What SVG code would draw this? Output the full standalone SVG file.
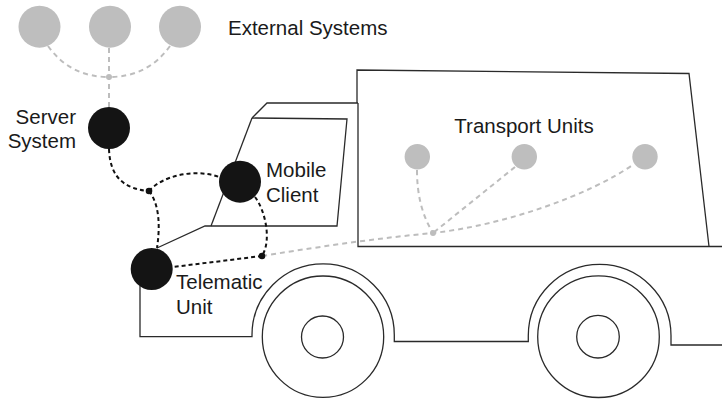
<svg xmlns="http://www.w3.org/2000/svg" width="722" height="400" viewBox="0 0 722 400">
  <style>
    .outline { fill: none; stroke: #2a2a2a; stroke-width: 1.3; stroke-linejoin: miter; }
    .link-dark { fill: none; stroke: #111; stroke-width: 2; stroke-dasharray: 4 3; }
    .link-grey { fill: none; stroke: #bdbdbd; stroke-width: 2; stroke-dasharray: 5 4; }
    .node-dark { fill: #141414; }
    .node-grey { fill: #bebebe; }
    .dot-dark { fill: #111; }
    .dot-grey { fill: #bdbdbd; }
    .label { font-family: "Liberation Sans", Arial, Helvetica, sans-serif; font-size: 20.5px; fill: #1a1a1a; }
  </style>

  <!-- truck drawing -->
  <g id="truck">
    <!-- cargo box -->
    <path class="outline" d="M357,103 L357,70 L689,73.5 L709,246.5"/>
    <path class="outline" d="M358,103 L358,246.5 L722,246.5"/>
    <!-- cab roof and window -->
    <path class="outline" d="M358,103 L267,103 L252,118"/>
    <path class="outline" d="M252,118 L347,119 L337,226 L205,226 L157,248"/>
    <path class="outline" d="M252,118 L211,226"/>
    <!-- lower body with wheel arches -->
    <path class="outline" d="M140,286 L140,336.7 L252,336.7 L252,335 A71,71 0 0 1 394.3,335 L394.3,341.5 L528.3,341.5 L528.3,335.6 A71.3,71.3 0 0 1 671,335.6 L671,345 L722,345"/>
    <!-- wheels -->
    <circle class="outline" cx="323" cy="336.7" r="60.7"/>
    <circle class="outline" cx="322.5" cy="337" r="21"/>
    <circle class="outline" cx="598.5" cy="336.7" r="60.8"/>
    <circle class="outline" cx="598" cy="336.7" r="21.3"/>
  </g>

  <!-- connectors -->
  <g id="connectors">
    <!-- external systems fan-in -->
    <path class="link-grey" d="M48,46 Q70,77 109,77"/>
    <path class="link-grey" d="M170,46 Q148,77 109,77"/>
    <path class="link-grey" d="M109,48 L109,107"/>
    <circle class="dot-grey" cx="109" cy="77" r="3"/>

    <!-- transport units fan-in -->
    <path class="link-grey" d="M262,256 C330,245 380,238 433,233 C505,225 590,195 634,164"/>
    <path class="link-grey" d="M417,170 C417,195 422,215 433,233"/>
    <path class="link-grey" d="M515,167 L433,233"/>
    <circle class="dot-grey" cx="433" cy="233" r="3"/>

    <!-- server / mobile / telematic links -->
    <path class="link-dark" d="M109,149 C110,178 125,189 149,191"/>
    <path class="link-dark" d="M149,191 C162,176 195,168 219,177"/>
    <path class="link-dark" d="M149,191 C160,205 160,228 157,248"/>
    <path class="link-dark" d="M255,197 C265,210 272,240 262,256"/>
    <path class="link-dark" d="M262,256 L173,267"/>
    <circle class="dot-dark" cx="149" cy="191" r="3.3"/>
    <circle class="dot-dark" cx="262" cy="256" r="3.3"/>
  </g>

  <!-- external systems -->
  <g id="external-systems">
    <circle class="node-grey" cx="39.5" cy="26.7" r="21"/>
    <circle class="node-grey" cx="110" cy="26.7" r="21"/>
    <circle class="node-grey" cx="180" cy="26.7" r="21"/>
    <text class="label" x="228" y="35">External Systems</text>
  </g>

  <g id="server-system">
    <circle class="node-dark" cx="109" cy="128" r="21"/>
    <text class="label" x="76" y="123.5" text-anchor="end">Server</text>
    <text class="label" x="76" y="148" text-anchor="end">System</text>
  </g>

  <g id="mobile-client">
    <circle class="node-dark" cx="240" cy="181.7" r="21"/>
    <text class="label" x="266" y="177">Mobile</text>
    <text class="label" x="266" y="202.3">Client</text>
  </g>

  <g id="telematic-unit">
    <circle class="node-dark" cx="151.7" cy="269" r="21"/>
    <text class="label" x="176" y="289.3">Telematic</text>
    <text class="label" x="176" y="314.3">Unit</text>
  </g>

  <g id="transport-units">
    <circle class="node-grey" cx="417.3" cy="156.7" r="12.7"/>
    <circle class="node-grey" cx="524.3" cy="156.7" r="12.7"/>
    <circle class="node-grey" cx="645" cy="156.7" r="12.7"/>
    <text class="label" x="454.3" y="132.7">Transport Units</text>
  </g>
</svg>
